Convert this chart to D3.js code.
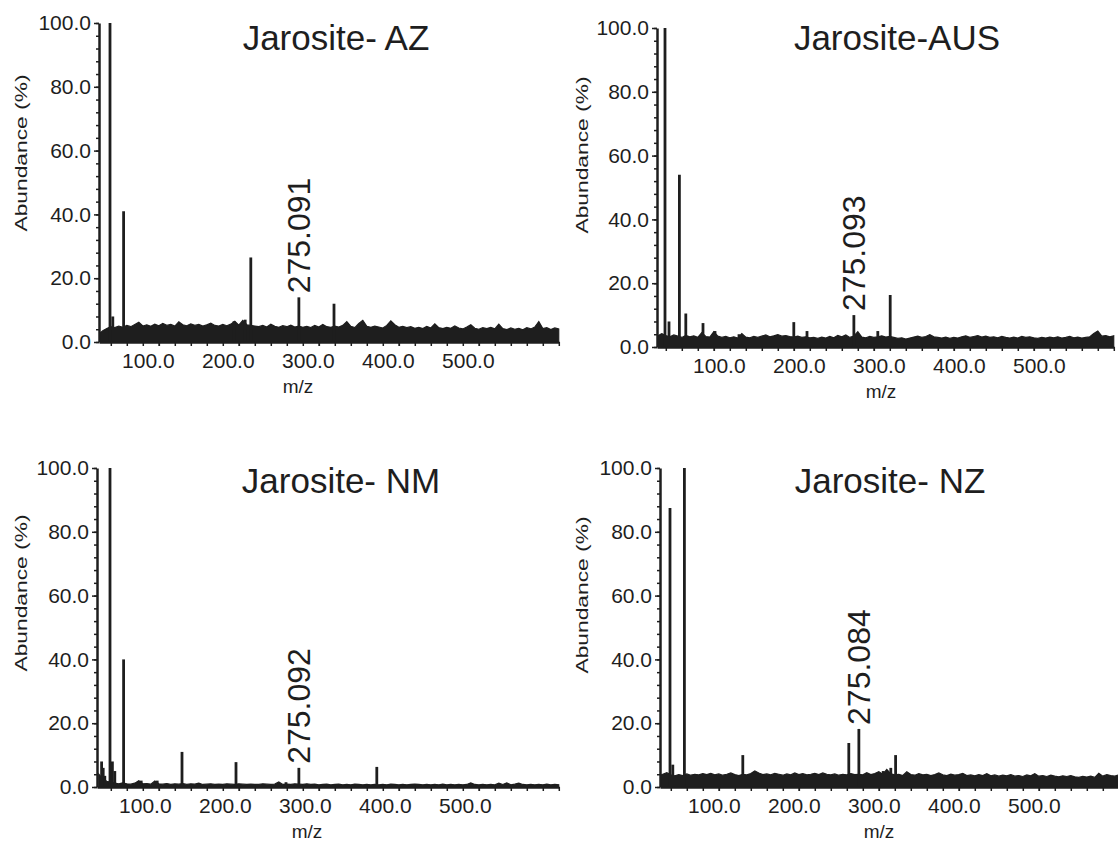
<!DOCTYPE html>
<html><head><meta charset="utf-8">
<script src="https://cdn.jsdelivr.net/npm/d3@7"></script>
<style>
body{margin:0;background:#fff;}
svg text{font-family:"Liberation Sans", Arial, Helvetica, sans-serif; fill:#1e1e1e;}
</style></head><body>
<svg id="chart" width="1118" height="842"></svg>
<script>
// ---------- data ----------
const titles = ["Jarosite- AZ", "Jarosite-AUS", "Jarosite- NM", "Jarosite- NZ"];
const xTickValues = [100, 200, 300, 400, 500];
const yTickValues = [0, 20, 40, 60, 80, 100];
const mzEnd = 600;
const noiseStart = 25, noiseStep = 5;   // noise envelope sampled every 5 m/z from 25 to 600

// peaks: [m/z, abundance %]
const azPeaks = [[39,100],[42.5,8],[56,41],[194,6.5],[208,7],[215,26.5],[275.091,14],[319,12]];
const ausPeaks = [[39,100],[44,8],[57,54],[65,10.5],[86.5,7.5],[101.5,5],[131.5,4],[200,7.8],[216.5,5],[275.093,10],[305,5],[320.5,16.3]];
const nmPeaks = [[28.5,8],[30.5,6],[32.5,3.5],[39,100],[42,8],[45,5],[56,40],[78,2],[98,2],[129,11],[196.5,7.8],[259,1.5],[275.092,6],[372.5,6.3]];
const nzPeaks = [[39,87.5],[42.5,7],[57,100],[130,10],[262.5,13.8],[275.084,18.2],[305.5,5],[315,6],[321,10]];

const peakLabels = ["275.091", "275.093", "275.092", "275.084"];

// noise envelope heights (%)
const azNoise = [2.5,3.5,4.2,4.8,4.5,5.0,4.6,5.2,4.8,5.5, 6.2,5.0,5.4,4.9,5.6,5.1,5.8,5.2,5.5,5.0,
  6.3,5.4,5.1,5.7,5.2,5.5,5.0,5.4,5.9,5.2, 5.0,5.5,5.1,5.6,6.5,5.3,6.8,5.4,5.2,5.0,
  4.8,5.2,4.7,5.6,4.9,4.6,5.1,4.8,5.3,4.7, 5.0,4.6,4.9,4.5,5.2,4.7,5.5,4.8,4.6,5.0,
  4.7,5.2,6.4,4.9,4.5,5.8,6.8,4.9,4.6,5.0, 4.7,4.4,5.2,6.6,5.4,4.6,4.9,4.5,4.8,4.3,
  4.6,4.2,4.9,4.4,5.7,4.5,4.2,4.6,4.3,5.0, 4.4,4.1,4.7,5.4,4.3,4.0,4.5,4.2,4.6,4.1,
  5.6,4.2,3.9,4.4,4.0,4.3,3.8,4.5,4.1,4.7, 6.4,4.2,4.5,3.9,4.4,4.1];
const ausNoise = [3.0,3.5,4.2,3.6,3.2,3.8,3.4,3.0,3.6,3.2, 3.5,3.0,4.5,3.3,3.1,4.8,3.4,3.0,3.3,2.9,
  3.2,2.8,4.2,3.1,2.9,3.3,3.0,3.4,3.8,3.2, 3.5,3.9,3.4,3.6,3.3,3.1,3.4,3.0,3.2,2.9,
  3.0,2.7,3.1,2.8,3.3,2.9,3.6,3.2,3.8,3.0, 3.4,4.8,3.1,2.9,3.3,3.0,3.2,3.5,3.1,3.3,
  3.0,2.7,2.9,2.5,2.8,3.1,3.4,3.0,3.3,3.9, 3.2,3.0,2.8,3.1,2.7,3.0,2.8,3.2,3.5,3.0,
  3.3,3.6,3.1,3.4,3.0,3.2,2.9,3.3,3.0,2.8, 3.1,2.8,3.3,3.0,3.2,2.9,2.7,3.0,2.8,3.1,
  2.9,3.2,2.8,3.0,3.3,2.9,3.1,2.8,3.0,3.2, 4.2,5.0,3.4,3.6,3.2,3.5];
const nmNoise = [4.0,2.5,1.8,1.5,1.2,1.0,1.3,1.0,0.9,1.2, 2.0,1.0,1.1,0.9,1.9,1.0,0.9,1.1,0.8,1.0,
  0.9,1.1,0.8,1.0,0.9,1.2,0.8,0.9,1.0,0.8, 0.9,0.8,1.0,0.9,0.8,1.0,0.9,0.8,0.9,0.8,
  0.8,1.0,0.9,0.8,0.9,1.6,0.8,0.9,0.8,1.0, 0.9,0.8,1.0,0.8,0.9,0.7,0.8,0.9,0.7,0.8,
  0.9,0.7,0.8,0.7,0.9,0.8,0.7,0.8,0.7,0.8, 0.7,0.8,0.7,0.9,0.8,0.7,0.8,0.7,0.8,0.9,
  0.8,0.7,0.8,0.7,0.8,0.7,0.9,0.7,0.8,0.7, 0.8,0.7,0.8,1.3,0.8,0.7,0.8,0.7,0.8,0.7,
  1.2,0.8,1.3,0.7,0.9,1.2,0.8,0.7,0.8,0.7, 0.8,0.7,0.9,0.7,0.8,0.7];
const nzNoise = [3.5,4.0,4.5,3.8,3.5,3.9,3.6,4.1,3.7,4.0, 3.8,4.2,3.9,4.3,3.8,4.1,3.7,4.0,4.4,3.9,
  3.6,4.0,3.8,4.2,5.0,4.4,3.9,4.1,3.8,4.3, 4.0,3.7,4.1,3.8,4.4,3.9,4.2,3.8,4.0,4.3,
  3.9,4.4,4.0,3.8,4.1,3.7,4.0,3.8,4.2,3.9, 4.0,3.8,4.5,3.9,4.2,4.8,4.0,5.5,4.1,3.8,
  4.0,3.6,4.8,3.9,3.7,4.2,3.8,4.0,3.6,3.9, 4.4,3.8,3.6,4.0,3.7,3.9,4.3,3.6,3.8,3.5,
  3.9,3.6,4.2,3.5,3.8,3.4,3.7,3.5,3.9,3.4, 3.6,3.3,3.8,3.5,4.2,3.4,3.6,3.3,3.7,3.4,
  3.2,3.5,3.3,3.6,3.2,3.0,3.3,3.1,3.4,3.0, 4.3,3.4,3.9,3.6,3.4,3.8];

// ---------- layout (positions only) ----------
const pxPerMz = 0.8;
const layout = [
  {left:99,  top:23,  bottom:342, mzStart:25.25, labelDx:-11, titleX:336, titleY:50,  ylabX:21,  ylabY:153, mzX:298},
  {left:657, top:28,  bottom:347, mzStart:29,    labelDx:5,   titleX:897, titleY:50,  ylabX:582, ylabY:155, mzX:881},
  {left:97,  top:468, bottom:787, mzStart:22.75, labelDx:-14, titleX:341, titleY:493, ylabX:21,  ylabY:593, mzX:307},
  {left:660, top:468, bottom:787, mzStart:26.5,  labelDx:-5,  titleX:890, titleY:493, ylabX:582, ylabY:595, mzX:879}
];
const series = [
  {peaks: azPeaks,  noise: azNoise},
  {peaks: ausPeaks, noise: ausNoise},
  {peaks: nmPeaks,  noise: nmNoise},
  {peaks: nzPeaks,  noise: nzNoise}
];

const ink = "#1e1e1e";
const svg = d3.select("#chart");
const defs = svg.append("defs");

series.forEach((s, i) => {
  const L = layout[i];
  const g = svg.append("g");
  const x = d3.scaleLinear().domain([L.mzStart, mzEnd])
    .range([L.left, L.left + (mzEnd - L.mzStart) * pxPerMz]);
  const y = d3.scaleLinear().domain([0, 100]).range([L.bottom, L.top]);

  defs.append("clipPath").attr("id", "clip" + i).append("rect")
    .attr("x", L.left + 1).attr("y", L.top - 10)
    .attr("width", x.range()[1] - L.left).attr("height", L.bottom - L.top + 11);
  const plot = g.append("g").attr("clip-path", `url(#clip${i})`);

  // noise band
  const noisePts = s.noise.map((v, k) => [noiseStart + k * noiseStep, v]);
  plot.append("path").datum(noisePts)
    .attr("d", d3.area().x(d => x(d[0])).y0(y(0)).y1(d => y(d[1])))
    .attr("fill", ink).attr("stroke", ink).attr("stroke-width", 1.2).attr("stroke-linejoin", "miter");

  // peaks
  plot.selectAll("line.peak").data(s.peaks).join("line").attr("class", "peak")
    .attr("x1", d => x(d[0])).attr("x2", d => x(d[0]))
    .attr("y1", y(0)).attr("y2", d => y(d[1]))
    .attr("stroke", ink).attr("stroke-width", 2.8);

  // x axis minor ticks
  const xMinor = g.append("g").attr("transform", `translate(0,${L.bottom})`)
    .call(d3.axisBottom(x).tickValues(d3.range(40, mzEnd + 1, 20)).tickFormat("").tickSize(4).tickSizeOuter(0));
  xMinor.select(".domain").attr("stroke", ink).attr("stroke-width", 2.5);
  xMinor.selectAll(".tick line").attr("stroke", ink).attr("stroke-width", 1.5);
  // x axis labels
  const xAx = g.append("g").attr("transform", `translate(0,${L.bottom})`)
    .call(d3.axisBottom(x).tickValues(xTickValues).tickFormat(d3.format(".1f")).tickSize(4).tickPadding(7).tickSizeOuter(0));
  xAx.select(".domain").remove();
  xAx.selectAll(".tick line").attr("stroke", ink).attr("stroke-width", 1.5);
  xAx.selectAll(".tick text").attr("font-size", 21).attr("dx", L.labelDx).attr("fill", ink);

  // y axis minor ticks
  const yMinor = g.append("g").attr("transform", `translate(${L.left},0)`)
    .call(d3.axisLeft(y).tickValues(d3.range(0, 101, 4)).tickFormat("").tickSize(3).tickSizeOuter(0));
  yMinor.select(".domain").attr("stroke", ink).attr("stroke-width", 2.5);
  yMinor.selectAll(".tick line").attr("stroke", ink).attr("stroke-width", 1.5);
  const yAx = g.append("g").attr("transform", `translate(${L.left},0)`)
    .call(d3.axisLeft(y).tickValues(yTickValues).tickFormat(d3.format(".1f")).tickSize(5).tickPadding(3).tickSizeOuter(0));
  yAx.select(".domain").remove();
  yAx.selectAll(".tick line").attr("stroke", ink).attr("stroke-width", 1.5);
  yAx.selectAll(".tick text").attr("font-size", 21).attr("fill", ink);

  // axis titles
  g.append("text").attr("x", L.mzX).attr("y", L.bottom + 51)
    .attr("text-anchor", "middle").attr("font-size", 19).text("m/z");
  g.append("text").attr("transform", `translate(${L.ylabX},${L.ylabY}) rotate(-90)`)
    .attr("text-anchor", "middle").attr("dy", "0.35em").attr("font-size", 17)
    .attr("textLength", 157).attr("lengthAdjust", "spacingAndGlyphs").text("Abundance (%)");

  // panel title
  g.append("text").attr("x", L.titleX).attr("y", L.titleY).attr("text-anchor", "middle")
    .attr("font-size", 35).text(titles[i]);

  // peak annotation
  const lp = s.peaks.find(d => d3.format(".3f")(d[0]) === peakLabels[i]);
  g.append("text").attr("transform", `translate(${x(lp[0])},${y(lp[1]) - 4}) rotate(-90)`)
    .attr("dy", "0.36em").attr("font-size", 32).text(peakLabels[i]);
});
</script></body></html>
